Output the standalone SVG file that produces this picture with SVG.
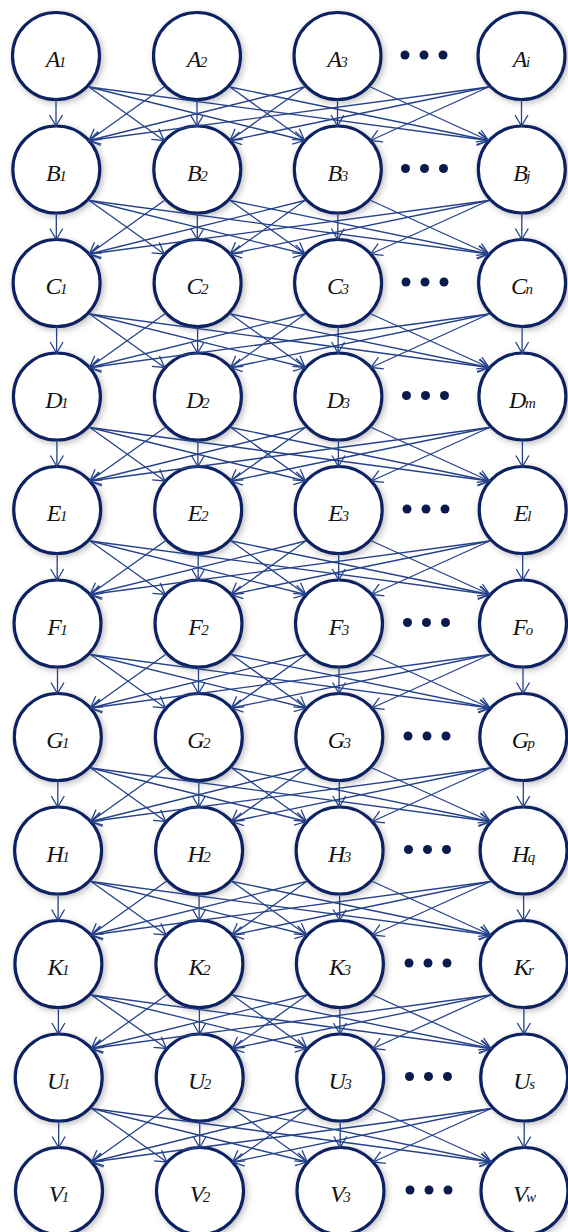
<svg xmlns="http://www.w3.org/2000/svg" width="568" height="1232" viewBox="0 0 568 1232">
  <defs>
    <style>
      .node circle { fill: #ffffff; stroke: #0b2162; stroke-width: 3.2; filter: url(#halo); }
      .node text { font-family: "Liberation Serif", "Times New Roman", serif; font-style: italic; font-size: 24px; fill: #141414; text-anchor: middle; }
      .node tspan { font-size: 15px; }
      .edge { stroke: #24418a; stroke-width: 1.3; fill: none; marker-end: url(#arrow); }
      .dot { fill: #0a1a4c; }
    </style>
    <filter id="halo" x="-30%" y="-30%" width="160%" height="160%">
      <feGaussianBlur in="SourceAlpha" stdDeviation="3"/>
      <feOffset dx="1.5" dy="1.5" result="blur"/>
      <feFlood flood-color="#7a7a7a" flood-opacity="0.5"/>
      <feComposite in2="blur" operator="in"/>
      <feMerge>
        <feMergeNode/>
        <feMergeNode in="SourceGraphic"/>
      </feMerge>
    </filter>
    <marker id="arrow" markerUnits="userSpaceOnUse" markerWidth="30" markerHeight="30" refX="0" refY="0" orient="auto" overflow="visible">
      <path d="M-11,-6.5 L0,0 L-11,6.5" fill="none" stroke="#24418a" stroke-width="1.3"/>
    </marker>
    <!-- one layer of connectors: every node of a row to every node of the row below -->
    <g id="layer">
      <line class="edge" x1="56" y1="43.5" x2="56" y2="70"/>
      <line class="edge" x1="197" y1="43.5" x2="197" y2="70"/>
      <line class="edge" x1="337.5" y1="43.5" x2="337.5" y2="70"/>
      <line class="edge" x1="521.5" y1="43.5" x2="521.5" y2="70"/>
      <line class="edge" x1="89" y1="31" x2="164" y2="84.5"/>
      <line class="edge" x1="89" y1="31" x2="304.5" y2="84.5"/>
      <line class="edge" x1="89" y1="31" x2="488.5" y2="84.5"/>
      <line class="edge" x1="230" y1="31" x2="304.5" y2="84.5"/>
      <line class="edge" x1="230" y1="31" x2="488.5" y2="84.5"/>
      <line class="edge" x1="370.5" y1="31" x2="488.5" y2="84.5"/>
      <line class="edge" x1="164" y1="31" x2="89" y2="84.5"/>
      <line class="edge" x1="304.5" y1="31" x2="89" y2="84.5"/>
      <line class="edge" x1="304.5" y1="31" x2="230" y2="84.5"/>
      <line class="edge" x1="488.5" y1="31" x2="89" y2="84.5"/>
      <line class="edge" x1="488.5" y1="31" x2="230" y2="84.5"/>
      <line class="edge" x1="488.5" y1="31" x2="370.5" y2="84.5"/>
    </g>
    <g id="dots">
      <circle class="dot" cx="-19" cy="-1" r="4.5"/>
      <circle class="dot" cx="0" cy="-1" r="4.5"/>
      <circle class="dot" cx="19" cy="-1" r="4.5"/>
    </g>
  </defs>

  <rect width="568" height="1232" fill="#ffffff"/>

  <g id="nodes">
    <!-- row A -->
    <g id="A1" class="node" transform="translate(56,56)"><circle r="43.5"/><text y="11">A<tspan dx="-1.5">1</tspan></text></g>
    <g id="A2" class="node" transform="translate(197,56)"><circle r="43.5"/><text y="11">A<tspan dx="-1.5">2</tspan></text></g>
    <g id="A3" class="node" transform="translate(337.5,56)"><circle r="43.5"/><text y="11">A<tspan dx="-1.5">3</tspan></text></g>
    <g id="Ai" class="node" transform="translate(521.5,56)"><circle r="43.5"/><text y="11">A<tspan dx="-1.5">i</tspan></text></g>
    <!-- row B -->
    <g id="B1" class="node" transform="translate(56.3,169.5)"><circle r="43.5"/><text y="11">B<tspan dx="-1.5">1</tspan></text></g>
    <g id="B2" class="node" transform="translate(197.3,169.5)"><circle r="43.5"/><text y="11">B<tspan dx="-1.5">2</tspan></text></g>
    <g id="B3" class="node" transform="translate(337.8,169.5)"><circle r="43.5"/><text y="11">B<tspan dx="-1.5">3</tspan></text></g>
    <g id="Bj" class="node" transform="translate(521.8,169.5)"><circle r="43.5"/><text y="11">B<tspan dx="-1.5">j</tspan></text></g>
    <!-- row C -->
    <g id="C1" class="node" transform="translate(56.6,283)"><circle r="43.5"/><text y="11">C<tspan dx="-1.5">1</tspan></text></g>
    <g id="C2" class="node" transform="translate(197.6,283)"><circle r="43.5"/><text y="11">C<tspan dx="-1.5">2</tspan></text></g>
    <g id="C3" class="node" transform="translate(338.1,283)"><circle r="43.5"/><text y="11">C<tspan dx="-1.5">3</tspan></text></g>
    <g id="Cn" class="node" transform="translate(522.1,283)"><circle r="43.5"/><text y="11">C<tspan dx="-1.5">n</tspan></text></g>
    <!-- row D -->
    <g id="D1" class="node" transform="translate(56.9,396.5)"><circle r="43.5"/><text y="11">D<tspan dx="-1.5">1</tspan></text></g>
    <g id="D2" class="node" transform="translate(197.9,396.5)"><circle r="43.5"/><text y="11">D<tspan dx="-1.5">2</tspan></text></g>
    <g id="D3" class="node" transform="translate(338.4,396.5)"><circle r="43.5"/><text y="11">D<tspan dx="-1.5">3</tspan></text></g>
    <g id="Dm" class="node" transform="translate(522.4,396.5)"><circle r="43.5"/><text y="11">D<tspan dx="-1.5">m</tspan></text></g>
    <!-- row E -->
    <g id="E1" class="node" transform="translate(57.2,510)"><circle r="43.5"/><text y="11">E<tspan dx="-1.5">1</tspan></text></g>
    <g id="E2" class="node" transform="translate(198.2,510)"><circle r="43.5"/><text y="11">E<tspan dx="-1.5">2</tspan></text></g>
    <g id="E3" class="node" transform="translate(338.7,510)"><circle r="43.5"/><text y="11">E<tspan dx="-1.5">3</tspan></text></g>
    <g id="El" class="node" transform="translate(522.7,510)"><circle r="43.5"/><text y="11">E<tspan dx="-1.5">l</tspan></text></g>
    <!-- row F -->
    <g id="F1" class="node" transform="translate(57.5,623.5)"><circle r="43.5"/><text y="11">F<tspan dx="-1.5">1</tspan></text></g>
    <g id="F2" class="node" transform="translate(198.5,623.5)"><circle r="43.5"/><text y="11">F<tspan dx="-1.5">2</tspan></text></g>
    <g id="F3" class="node" transform="translate(339,623.5)"><circle r="43.5"/><text y="11">F<tspan dx="-1.5">3</tspan></text></g>
    <g id="Fo" class="node" transform="translate(523,623.5)"><circle r="43.5"/><text y="11">F<tspan dx="-1.5">o</tspan></text></g>
    <!-- row G -->
    <g id="G1" class="node" transform="translate(57.8,737)"><circle r="43.5"/><text y="11">G<tspan dx="-1.5">1</tspan></text></g>
    <g id="G2" class="node" transform="translate(198.8,737)"><circle r="43.5"/><text y="11">G<tspan dx="-1.5">2</tspan></text></g>
    <g id="G3" class="node" transform="translate(339.3,737)"><circle r="43.5"/><text y="11">G<tspan dx="-1.5">3</tspan></text></g>
    <g id="Gp" class="node" transform="translate(523.3,737)"><circle r="43.5"/><text y="11">G<tspan dx="-1.5">p</tspan></text></g>
    <!-- row H -->
    <g id="H1" class="node" transform="translate(58.1,850.5)"><circle r="43.5"/><text y="11">H<tspan dx="-1.5">1</tspan></text></g>
    <g id="H2" class="node" transform="translate(199.1,850.5)"><circle r="43.5"/><text y="11">H<tspan dx="-1.5">2</tspan></text></g>
    <g id="H3" class="node" transform="translate(339.6,850.5)"><circle r="43.5"/><text y="11">H<tspan dx="-1.5">3</tspan></text></g>
    <g id="Hq" class="node" transform="translate(523.6,850.5)"><circle r="43.5"/><text y="11">H<tspan dx="-1.5">q</tspan></text></g>
    <!-- row K -->
    <g id="K1" class="node" transform="translate(58.4,964)"><circle r="43.5"/><text y="11">K<tspan dx="-1.5">1</tspan></text></g>
    <g id="K2" class="node" transform="translate(199.4,964)"><circle r="43.5"/><text y="11">K<tspan dx="-1.5">2</tspan></text></g>
    <g id="K3" class="node" transform="translate(339.9,964)"><circle r="43.5"/><text y="11">K<tspan dx="-1.5">3</tspan></text></g>
    <g id="Kr" class="node" transform="translate(523.9,964)"><circle r="43.5"/><text y="11">K<tspan dx="-1.5">r</tspan></text></g>
    <!-- row U -->
    <g id="U1" class="node" transform="translate(58.7,1077.5)"><circle r="43.5"/><text y="11">U<tspan dx="-1.5">1</tspan></text></g>
    <g id="U2" class="node" transform="translate(199.7,1077.5)"><circle r="43.5"/><text y="11">U<tspan dx="-1.5">2</tspan></text></g>
    <g id="U3" class="node" transform="translate(340.2,1077.5)"><circle r="43.5"/><text y="11">U<tspan dx="-1.5">3</tspan></text></g>
    <g id="Us" class="node" transform="translate(524.2,1077.5)"><circle r="43.5"/><text y="11">U<tspan dx="-1.5">s</tspan></text></g>
    <!-- row V -->
    <g id="V1" class="node" transform="translate(59,1191)"><circle r="43.5"/><text y="11">V<tspan dx="-1.5">1</tspan></text></g>
    <g id="V2" class="node" transform="translate(200,1191)"><circle r="43.5"/><text y="11">V<tspan dx="-1.5">2</tspan></text></g>
    <g id="V3" class="node" transform="translate(340.5,1191)"><circle r="43.5"/><text y="11">V<tspan dx="-1.5">3</tspan></text></g>
    <g id="Vw" class="node" transform="translate(524.5,1191)"><circle r="43.5"/><text y="11">V<tspan dx="-1.5">w</tspan></text></g>
  </g>

  <!-- ellipsis between the third and last column of each row -->
  <g id="ellipses">
    <use href="#dots" transform="translate(424,56)"/>
    <use href="#dots" transform="translate(424.5,169.5)"/>
    <use href="#dots" transform="translate(425,283)"/>
    <use href="#dots" transform="translate(425.5,396.5)"/>
    <use href="#dots" transform="translate(426,510)"/>
    <use href="#dots" transform="translate(426.5,623.5)"/>
    <use href="#dots" transform="translate(427,737)"/>
    <use href="#dots" transform="translate(427.5,850.5)"/>
    <use href="#dots" transform="translate(428,964)"/>
    <use href="#dots" transform="translate(428.5,1077.5)"/>
    <use href="#dots" transform="translate(429,1191)"/>
  </g>

  <g id="connectors">
    <use href="#layer" transform="translate(0,56)"/>
    <use href="#layer" transform="translate(0.3,169.5)"/>
    <use href="#layer" transform="translate(0.6,283)"/>
    <use href="#layer" transform="translate(0.9,396.5)"/>
    <use href="#layer" transform="translate(1.2,510)"/>
    <use href="#layer" transform="translate(1.5,623.5)"/>
    <use href="#layer" transform="translate(1.8,737)"/>
    <use href="#layer" transform="translate(2.1,850.5)"/>
    <use href="#layer" transform="translate(2.4,964)"/>
    <use href="#layer" transform="translate(2.7,1077.5)"/>
  </g>
</svg>
